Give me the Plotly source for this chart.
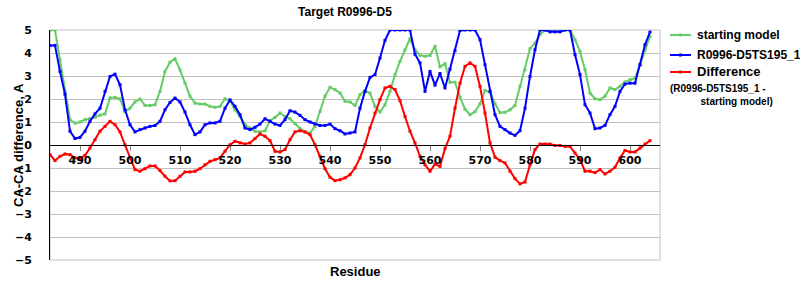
import plotly.graph_objects as go

residues = list(range(484, 605))

starting_model = [
    5.00, 5.00, 3.70, 2.30, 1.10, 0.95, 1.00, 1.10, 1.15, 1.20,
    1.30, 1.35, 2.05, 2.07, 2.00, 1.45, 1.60, 1.87, 2.00, 1.72,
    1.72, 1.75, 2.33, 3.20, 3.60, 3.75, 3.27, 2.69, 2.12, 1.82,
    1.78, 1.78, 1.68, 1.64, 1.68, 2.01, 1.92, 1.53, 1.24, 0.88,
    0.74, 0.60, 0.57, 0.62, 1.06, 1.20, 1.39, 1.24, 1.14, 0.93,
    0.72, 0.57, 0.52, 0.81, 1.46, 2.12, 2.51, 2.41, 2.26, 1.90,
    1.87, 1.72, 2.19, 2.36, 2.26, 1.68, 1.43, 1.75, 2.33, 3.06,
    3.64, 4.14, 4.62, 4.14, 3.90, 3.86, 3.90, 4.29, 3.40, 3.54,
    2.73, 2.73, 2.08, 1.56, 1.32, 1.45, 1.79, 2.37, 2.30, 1.80,
    1.41, 1.42, 1.53, 1.72, 2.55, 3.27, 4.19, 4.43, 4.80, 5.00,
    5.00, 5.00, 5.00, 5.00, 5.00, 4.58, 4.07, 3.27, 2.26, 2.01,
    1.97, 2.12, 2.48, 2.41, 2.55, 2.74, 2.84, 2.91, 3.49, 4.14,
    4.72,
]

model_r0996 = [
    4.33, 4.33, 3.20, 2.20, 0.60, 0.28, 0.33, 0.60, 1.03, 1.35,
    1.60, 2.33, 2.98, 3.08, 2.62, 1.53, 0.88, 0.57, 0.67, 0.74,
    0.81, 0.85, 1.03, 1.53, 1.85, 2.04, 1.87, 1.43, 0.88, 0.45,
    0.57, 0.88, 0.96, 0.96, 1.03, 1.60, 1.96, 1.68, 1.32, 0.74,
    0.67, 0.77, 0.91, 1.14, 1.03, 0.91, 0.85, 1.10, 1.49, 1.43,
    1.29, 1.10, 1.00, 0.91, 0.85, 0.85, 0.91, 0.71, 0.62, 0.48,
    0.52, 0.57, 1.60, 2.33, 2.94, 3.06, 3.78, 4.55, 5.00, 5.00,
    5.00, 5.00, 5.00, 3.95, 3.57, 2.33, 3.20, 2.60, 3.11, 2.48,
    3.30, 4.10, 4.98, 5.00, 5.00, 5.00, 4.58, 3.49, 2.33, 1.32,
    0.81, 0.67, 0.52, 0.42, 0.62, 1.60, 2.98, 4.14, 5.00, 5.00,
    4.92, 4.92, 4.92, 5.00, 5.00, 3.93, 3.06, 1.75, 1.39, 0.71,
    0.74, 0.85, 1.32, 1.68, 2.33, 2.65, 2.69, 2.69, 3.49, 4.36,
    4.91,
]

difference = [
    -0.42, -0.68, -0.49, -0.39, -0.42, -0.56, -0.59, -0.45, -0.13, 0.23,
    0.60, 0.81, 1.03, 0.88, 0.57, 0.01, -0.56, -1.07, -1.14, -1.03,
    -0.91, -0.91, -1.11, -1.36, -1.56, -1.55, -1.36, -1.17, -1.17, -1.14,
    -1.03, -0.86, -0.71, -0.64, -0.56, -0.27, 0.01, 0.16, 0.09, 0.04,
    0.09, 0.28, 0.48, 0.38, 0.19, -0.27, -0.30, -0.20, 0.23, 0.57,
    0.62, 0.57, 0.45, 0.01, -0.49, -1.03, -1.40, -1.55, -1.51, -1.43,
    -1.29, -1.00, -0.56, 0.01, 0.74, 1.39, 1.97, 2.48, 2.55, 2.41,
    1.93, 1.24, 0.60, 0.09, -0.49, -0.86, -1.14, -0.83, -0.93, -0.16,
    0.38, 1.60, 2.69, 3.42, 3.57, 3.42, 2.55, 1.39, 0.09, -0.53,
    -0.68, -0.78, -1.14, -1.46, -1.69, -1.61, -0.86, -0.20, 0.04, 0.04,
    0.04, -0.02, -0.02, -0.06, -0.06, -0.35, -0.64, -1.14, -1.14, -1.20,
    -1.07, -1.26, -1.14, -0.97, -0.56, -0.24, -0.30, -0.30, -0.13, 0.04,
    0.19, 0.23,
]
difference = difference[:len(residues)]
while len(difference) < len(residues):
    difference.append(difference[-1])

x_ticks = list(range(490, 601, 10))
y_ticks = list(range(-5, 6))

series_names = ["starting model", "R0996-D5TS195_1", "Difference"]
series_colors = ["#66cc66", "#0000ff", "#ff0000"]
series_values = [starting_model, model_r0996, difference]
diff_note = "(R0996-D5TS195_1 -<br>" + "\u00a0" * 11 + "starting model)"

# layout geometry (pixels)
W, H = 800, 300
ML, MR, MT, MB = 50, 140, 30, 40
PW, PH = W - ML - MR, H - MT - MB


def px_x(p):
    return (p - ML) / PW


def px_y(p):
    return (H - MB - p) / PH


fig = go.Figure()
for name, vals, color in zip(series_names, series_values, series_colors):
    fig.add_trace(go.Scatter(
        x=residues, y=vals, name=name, mode="lines+markers",
        line=dict(color=color, width=2),
        marker=dict(color=color, size=3, symbol="square"),
        showlegend=False,
    ))

font_main = "Liberation Sans, Arial, sans-serif"
tick_font = dict(family="DejaVu Sans", size=11, color="black", weight="bold")

shapes = [dict(type="rect", xref="paper", yref="paper", x0=0, x1=1, y0=0, y1=1,
               line=dict(color="#c0c0c0", width=1), layer="below")]
annotations = [
    dict(text="<b>Residue</b>", xref="paper", yref="paper",
         x=px_x(355), y=px_y(271), xanchor="center", yanchor="middle",
         showarrow=False, font=dict(family=font_main, size=13, color="black")),
    dict(text="<b>CA-CA difference, A</b>", xref="paper", yref="paper",
         x=px_x(18), y=px_y(145), xanchor="center", yanchor="middle", textangle=-90,
         showarrow=False, font=dict(family=font_main, size=13, color="black")),
]

legend_y = [35, 55, 72]
legend_sizes = [12, 12, 13]
for name, color, ly, fs in zip(series_names, series_colors, legend_y, legend_sizes):
    shapes.append(dict(type="line", xref="paper", yref="paper",
                       x0=px_x(670), x1=px_x(691), y0=px_y(ly), y1=px_y(ly),
                       line=dict(color=color, width=2)))
    shapes.append(dict(type="rect", xref="paper", yref="paper",
                       x0=px_x(679), x1=px_x(682), y0=px_y(ly - 1.5), y1=px_y(ly + 1.5),
                       line=dict(color=color, width=0), fillcolor=color))
    annotations.append(dict(text="<b>" + name + "</b>", xref="paper", yref="paper",
                            x=px_x(696), y=px_y(ly), xanchor="left", yanchor="middle",
                            showarrow=False, borderpad=0,
                            font=dict(family=font_main, size=fs, color="black")))
annotations.append(dict(text="<b>" + diff_note + "</b>", xref="paper", yref="paper",
                        x=px_x(669), y=px_y(82), xanchor="left", yanchor="top",
                        align="left", showarrow=False, borderpad=0,
                        font=dict(family=font_main, size=10, color="black")))

fig.update_layout(
    width=W, height=H,
    margin=dict(l=ML, r=MR, t=MT, b=MB),
    paper_bgcolor="white", plot_bgcolor="white",
    title=dict(text="<b>Target R0996-D5</b>", x=345 / W, xref="container",
               xanchor="center", y=1 - 12 / H, yanchor="middle",
               font=dict(family=font_main, size=12, color="black")),
    showlegend=False,
    xaxis=dict(range=[484, 606], tickvals=x_ticks, ticktext=[str(t) for t in x_ticks],
               anchor="free", position=0.5, showline=True, linecolor="black", linewidth=1,
               ticks="outside", ticklen=5, tickcolor="#808080", showgrid=False, zeroline=False,
               tickfont=tick_font),
    yaxis=dict(range=[-5, 5], tickvals=y_ticks, ticktext=[str(t).replace("-", "\u2212") for t in y_ticks],
               showline=True, linecolor="black", linewidth=1, showgrid=True,
               gridcolor="#c0c0c0", gridwidth=1, zeroline=False, ticks="",
               ticklabelstandoff=15, tickfont=tick_font),
    shapes=shapes,
    annotations=annotations,
)

fig.write_html("out.html")
